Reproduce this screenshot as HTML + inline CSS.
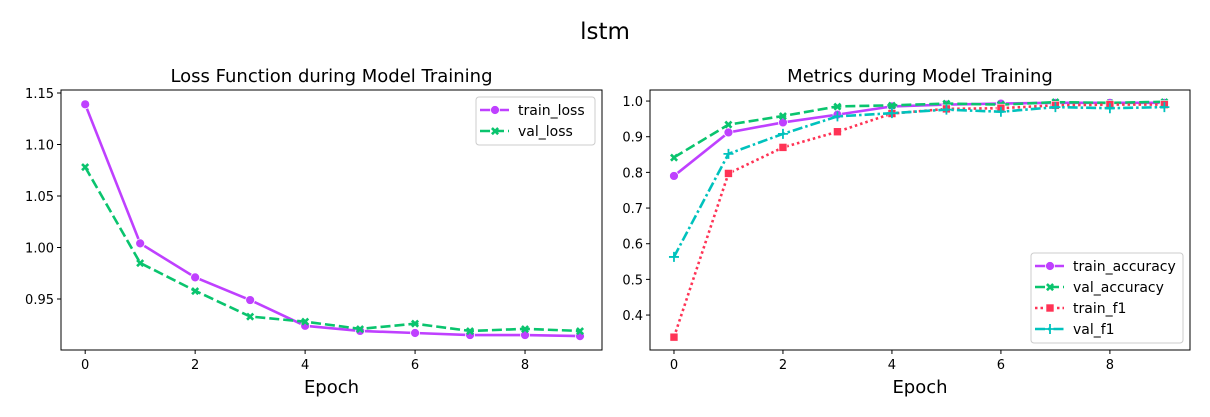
<!DOCTYPE html>
<html><head><meta charset="utf-8"><style>
body{margin:0;background:#fff;}
svg{display:block;font-family:"DejaVu Sans","Liberation Sans",sans-serif;}
</style></head><body>
<svg id="fig" width="1210" height="417" viewBox="0 0 1210 417">
<text x="605" y="39" font-size="23" text-anchor="middle">lstm</text>
</svg>
<script>
const epochs=[0,1,2,3,4,5,6,7,8,9];
const trainLoss=[1.139,1.004,0.971,0.949,0.924,0.919,0.917,0.915,0.915,0.914];
const valLoss=[1.078,0.985,0.958,0.933,0.928,0.921,0.926,0.919,0.921,0.919];
const trainAcc=[0.79,0.912,0.94,0.962,0.985,0.99,0.993,0.995,0.995,0.995];
const valAcc=[0.842,0.934,0.958,0.985,0.988,0.993,0.99,0.997,0.995,0.998];
const trainF1=[0.338,0.797,0.87,0.914,0.965,0.978,0.98,0.988,0.99,0.99];
const valF1=[0.563,0.852,0.908,0.957,0.966,0.976,0.97,0.983,0.98,0.983];
const xTicks=[0,2,4,6,8];
const lossTicks=[0.95,1.00,1.05,1.10,1.15];
const metricTicks=[0.4,0.5,0.6,0.7,0.8,0.9,1.0];

const NS="http://www.w3.org/2000/svg";
const svg=document.getElementById('fig');
function mk(tag,attrs,parent){const e=document.createElementNS(NS,tag);for(const k in attrs)e.setAttribute(k,attrs[k]);(parent||svg).appendChild(e);return e;}

const C={purple:'#bf40ff',green:'#0ac46e',red:'#ff3355',cyan:'#00c2bd'};

function marker(g,type,x,y,color){
  let m;
  if(type==='o'){m=mk('circle',{cx:x,cy:y,r:4.5,fill:color,stroke:'#fff','stroke-width':0.8},g);}
  else if(type==='x'){m=mk('text',{x:x,y:y+4.5,'font-size':12,'font-weight':'bold','text-anchor':'middle',fill:color},g);m.textContent='✖';}
  else if(type==='s'){m=mk('rect',{x:x-4,y:y-4,width:8,height:8,fill:color,stroke:'#fff','stroke-width':0.6},g);}
  else {m=mk('path',{d:`M${x-5} ${y}H${x+5}M${x} ${y-5}V${y+5}`,stroke:color,'stroke-width':1.8},g);}
  
  
}

function panel(cfg){
  const {L,R,T,B,x0,x1,y0,y1}=cfg;
  const sx=v=>L+(v-x0)/(x1-x0)*(R-L);
  const sy=v=>B-(v-y0)/(y1-y0)*(B-T);
  const g=mk('g',{});
  
  
  const t=mk('text',{x:(L+R)/2,y:T-8,'font-size':18,'text-anchor':'middle'},g);
  t.textContent=cfg.title;
  
  xTicks.forEach(v=>{const x=sx(v);mk('line',{x1:x,x2:x,y1:B,y2:B+4,stroke:'#000'},g);
    const tt=mk('text',{x:x,y:B+19,'font-size':13,'text-anchor':'middle'},g);tt.textContent=v;
    });
  cfg.yticks.forEach(v=>{const y=sy(v);mk('line',{x1:L-4,x2:L,y1:y,y2:y,stroke:'#000'},g);
    const tt=mk('text',{x:L-7,y:y+5,'font-size':13,'text-anchor':'end'},g);tt.textContent=v.toFixed(cfg.dec);
    });
  const xl=mk('text',{x:(L+R)/2,y:B+43,'font-size':18,'text-anchor':'middle'},g);xl.textContent='Epoch';
  
  cfg.series.forEach(s=>{
    const pts=s.data.map((v,i)=>sx(epochs[i])+','+sy(v)).join(' ');
    const pl=mk('polyline',{points:pts,fill:'none',stroke:s.color,'stroke-width':2.6,'stroke-dasharray':s.dash||'none'},g);
    
    s.data.forEach((v,i)=>marker(g,s.m,sx(epochs[i]),sy(v),s.color));
  });
  const fr=mk('rect',{x:L,y:T,width:R-L,height:B-T,fill:'none',stroke:'#000','stroke-width':1},g);
  
  const lg=cfg.legend;
  const leg=mk('g',{},g);
  
  mk('rect',{x:lg.x,y:lg.y,width:lg.w,height:cfg.series.length*21+6,rx:3,fill:'#fff','fill-opacity':0.8,stroke:'#ccc'},leg);
  cfg.series.forEach((s,i)=>{
    const yy=lg.y+13+i*21;
    const e=mk('g',{},leg);
    
    mk('line',{x1:lg.x+4,x2:lg.x+33,y1:yy,y2:yy,stroke:s.color,'stroke-width':2.5,'stroke-dasharray':s.dash||'none'},e);
    marker(e,s.m,lg.x+19,yy,s.color);
    const tx=mk('text',{x:lg.x+42,y:yy+5,'font-size':14},e);tx.textContent=s.label;
  });
}

panel({name:'loss-chart',title:'Loss Function during Model Training',L:61,R:602,T:90,B:350,x0:-0.44,x1:9.4,y0:0.9005,y1:1.1529,yticks:lossTicks,dec:2,
  legend:{x:476,y:97,w:119},
  series:[{label:'train_loss',data:trainLoss,color:C.purple,m:'o'},
          {label:'val_loss',data:valLoss,color:C.green,m:'x',dash:'10,4'}]});
panel({name:'metrics-chart',title:'Metrics during Model Training',L:650,R:1190,T:90,B:350,x0:-0.44,x1:9.47,y0:0.302,y1:1.031,yticks:metricTicks,dec:1,
  legend:{x:1031,y:253,w:152},
  series:[{label:'train_accuracy',data:trainAcc,color:C.purple,m:'o'},
          {label:'val_accuracy',data:valAcc,color:C.green,m:'x',dash:'10,4'},
          {label:'train_f1',data:trainF1,color:C.red,m:'s',dash:'2.5,3'},
          {label:'val_f1',data:valF1,color:C.cyan,m:'+',dash:'10,3,2.5,3'}]});
</script>
</body></html>
